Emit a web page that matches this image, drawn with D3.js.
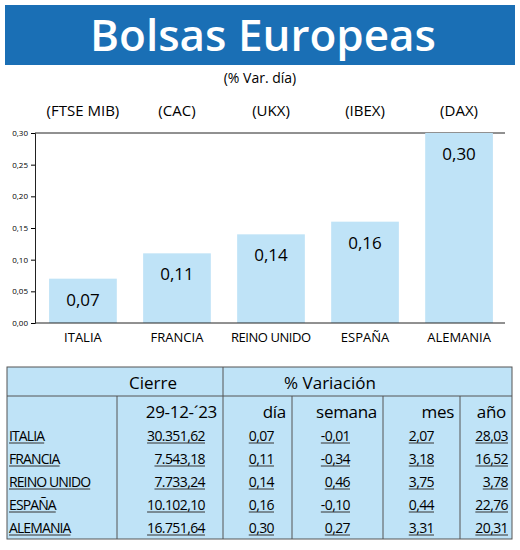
<!DOCTYPE html><html><head><meta charset="utf-8"><script src="https://cdn.jsdelivr.net/npm/d3@7"></script>
<style>body{margin:0;background:#fff}text{font-family:"Open Sans",sans-serif}</style></head><body><svg id="c" width="520" height="550"></svg>
<script>
const countries=["ITALIA","FRANCIA","REINO UNIDO","ESPAÑA","ALEMANIA"];
const indices=["(FTSE MIB)","(CAC)","(UKX)","(IBEX)","(DAX)"];
const dayVar=[0.07,0.11,0.14,0.16,0.30];
const yTicks=[0,0.05,0.10,0.15,0.20,0.25,0.30];
const cierre=["30.351,62","7.543,18","7.733,24","10.102,10","16.751,64"];
const dia=["0,07","0,11","0,14","0,16","0,30"];
const semana=["-0,01","-0,34","0,46","-0,10","0,27"];
const mes=["2,07","3,18","3,75","0,44","3,31"];
const anio=["28,03","16,52","3,78","22,76","20,31"];
const fmt=d=>d3.format(".2f")(d).replace(".",",");
const svg=d3.select("#c");
const blue="#1a6fb5",light="#bfe3f7";
svg.append("rect").attr("x",5).attr("y",5).attr("width",510).attr("height",60).attr("fill",blue);
svg.append("text").attr("x",263).attr("y",51).attr("text-anchor","middle").attr("fill","#fff").attr("font-size",44).attr("font-weight",600).text("Bolsas Europeas");
svg.append("text").attr("x",260).attr("y",83).attr("text-anchor","middle").attr("font-size",14).text("(% Var. día)");
const x=d3.scaleBand().domain(countries).range([35,507]).paddingInner(0.28).paddingOuter(0.15);
const y=d3.scaleLinear().domain([0,0.30]).range([323,133]);
svg.append("g").selectAll("text").data(indices).join("text").attr("x",(d,i)=>x(countries[i])+x.bandwidth()/2).attr("y",116).attr("text-anchor","middle").attr("font-size",15).text(d=>d);
svg.append("line").attr("x1",35).attr("x2",505).attr("y1",y(0.30)).attr("y2",y(0.30)).attr("stroke","#222");
svg.append("g").selectAll("rect").data(dayVar).join("rect").attr("x",(d,i)=>x(countries[i])).attr("width",x.bandwidth()).attr("y",d=>y(d)).attr("height",d=>y(0)-y(d)).attr("fill",light);
svg.append("g").selectAll("text").data(dayVar).join("text").attr("x",(d,i)=>x(countries[i])+x.bandwidth()/2).attr("y",d=>y(d)+27).attr("text-anchor","middle").attr("font-size",17).text(fmt);
const ax=svg.append("g").attr("transform","translate(35,0)").call(d3.axisLeft(y).tickValues(yTicks).tickFormat(fmt).tickSize(4));
ax.selectAll("text").attr("font-size",8);ax.select(".domain").attr("stroke","#222");
svg.append("line").attr("x1",35).attr("x2",505).attr("y1",y(0)).attr("y2",y(0)).attr("stroke","#222");
svg.append("g").selectAll("text").data(countries).join("text").attr("x",d=>x(d)+x.bandwidth()/2).attr("y",342).attr("text-anchor","middle").attr("font-size",13).attr("textLength",d=>d.length>8?80:null).text(d=>d);
const cols=[7,117,223,292,383,460,512];
const rowY=[367,396,424,447,470,493,516,539];
const t=svg.append("g");
t.append("rect").attr("x",7).attr("y",367).attr("width",505).attr("height",172).attr("fill",light).attr("stroke","#555");
t.append("line").attr("x1",7).attr("x2",512).attr("y1",396).attr("y2",396).attr("stroke","#555");
t.append("line").attr("x1",223).attr("x2",223).attr("y1",367).attr("y2",539).attr("stroke","#555");
[117,292,383,460].forEach(c=>t.append("line").attr("x1",c).attr("x2",c).attr("y1",396).attr("y2",539).attr("stroke","#555"));
t.append("text").attr("x",153).attr("y",389).attr("text-anchor","middle").attr("font-size",17).text("Cierre");
t.append("text").attr("x",330).attr("y",389).attr("text-anchor","middle").attr("font-size",17).text("% Variación");
const hdr=["29-12-´23","día","semana","mes","año"];
hdr.forEach((h,i)=>t.append("text").attr("x",cols[i+2]-6).attr("y",418).attr("text-anchor","end").attr("font-size",17).attr("letter-spacing",-0.3).text(h));
const cells=[cierre,dia,semana,mes,anio];
const rightX=[205,274,350,434,508];
countries.forEach((c,r)=>{
 const yy=rowY[r+2]+17;
 const lt=t.append("text").attr("x",9).attr("y",yy).attr("font-size",14).attr("letter-spacing",-0.9).text(c);
 const w=lt.node().getComputedTextLength();
 t.append("line").attr("x1",9).attr("x2",9+w).attr("y1",yy+2).attr("y2",yy+2).attr("stroke","#333");
 cells.forEach((arr,k)=>{
  const tx=t.append("text").attr("x",rightX[k]).attr("y",yy).attr("text-anchor","end").attr("font-size",14).attr("letter-spacing",-0.6).text(arr[r]);
  const tw=tx.node().getComputedTextLength();
  t.append("line").attr("x1",rightX[k]-tw).attr("x2",rightX[k]).attr("y1",yy+2).attr("y2",yy+2).attr("stroke","#333");
 });
});
</script></body></html>
